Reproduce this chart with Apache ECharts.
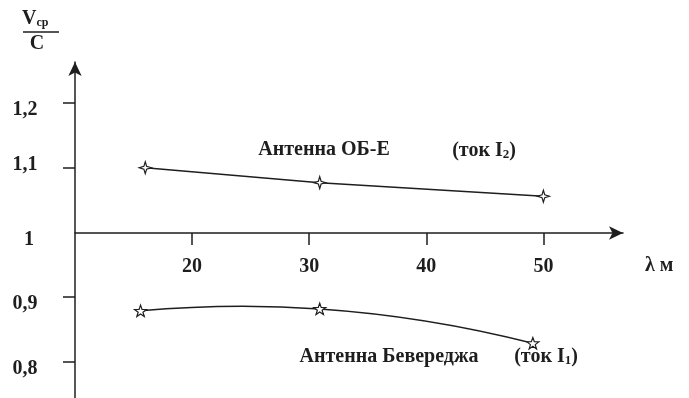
<!DOCTYPE html>
<html>
<head>
<meta charset="utf-8">
<script src="https://cdn.jsdelivr.net/npm/echarts@6/dist/echarts.min.js"></script>
<style>
  html, body { margin: 0; padding: 0; background: #fff; }
  #chart { width: 689px; height: 398px; }
</style>
</head>
<body>
<div id="chart"></div>
<script>
// Wavelength (m) and phase-velocity ratio V/C for the two antennas
const wavelengthOBE = [16, 30.9, 50];
const ratioOBE = [1.1, 1.077, 1.056];
const wavelengthBev = [15.6, 30.9, 49.1];
const ratioBev = [0.879, 0.882, 0.829];

// Axis ticks and labels
const xTicks = [20, 30, 40, 50];
const yTicks = [0.8, 0.9, 1.1, 1.2];
const yLabels = [0.8, 0.9, 1, 1.1, 1.2];

const INK = '#1e1e1e';
const FONT = 'Liberation Serif';
const labelFont = { fontFamily: FONT, fontWeight: 'bold', fontSize: 20, color: INK };

// hollow four-pointed and five-pointed star markers
const star4 = 'path://M10,0L12.3,7.7L20,10L12.3,12.3L10,20L7.7,12.3L0,10L7.7,7.7Z';
const star5 = 'path://M10,0L12.35,6.76L19.51,6.91L13.8,11.24L15.88,18.09L10,14L4.12,18.09L6.2,11.24L0.49,6.91L7.65,6.76Z';

// decimal comma; each label sits a little below its tick, "1,1" slightly above
const fmtY = v => {
  const isInt = Math.abs(v - Math.round(v)) < 1e-9;
  const s = (isInt ? String(Math.round(v)) : v.toFixed(1)).replace('.', ',');
  if (isInt) return '{one|' + s + '}';
  if (Math.abs(v - 1.1) < 1e-9) return '{hi|' + s + '}';
  return '{lo|' + s + '}';
};

// Smooth curve through three measured points: a parabola in screen space,
// drawn as two quadratic Bezier pieces.
function renderBeverageCurve(params, api) {
  const p = wavelengthBev.map((x, i) => api.coord([x, ratioBev[i]]));
  const [x1, y1] = p[0], [x2, y2] = p[1], [x3, y3] = p[2];
  const s12 = (y2 - y1) / (x2 - x1);
  const s23 = (y3 - y2) / (x3 - x2);
  const a = (s23 - s12) / (x3 - x1);
  const slope = x => s12 + a * (2 * x - x1 - x2);
  const style = { stroke: INK, lineWidth: 1.5, fill: null };
  return {
    type: 'group',
    children: [
      { type: 'bezierCurve', shape: { x1, y1, x2, y2, cpx1: (x1 + x2) / 2, cpy1: y1 + slope(x1) * (x2 - x1) / 2 }, style },
      { type: 'bezierCurve', shape: { x1: x2, y1: y2, x2: x3, y2: y3, cpx1: (x2 + x3) / 2, cpy1: y2 + slope(x2) * (x3 - x2) / 2 }, style }
    ]
  };
}

const chart = echarts.init(document.getElementById('chart'), null, { renderer: 'canvas' });

chart.setOption({
  animation: false,
  backgroundColor: '#fff',
  grid: { left: 75, right: 66, top: 62, bottom: 0, outerBoundsMode: 'none', containLabel: false },
  xAxis: {
    type: 'value',
    min: 10,
    max: 56.8,
    position: 'bottom',
    offset: -165,
    axisLine: {
      show: true,
      lineStyle: { color: INK, width: 1.5 },
      symbol: ['none', 'arrow'],
      symbolSize: [10, 14]
    },
    axisTick: { show: true, length: 12, customValues: xTicks, lineStyle: { color: INK, width: 1.5 } },
    axisLabel: Object.assign({ customValues: xTicks, margin: 24 }, labelFont),
    splitLine: { show: false }
  },
  yAxis: {
    type: 'value',
    min: 0.7444,
    max: 1.2633,
    axisLine: {
      show: true,
      lineStyle: { color: INK, width: 1.5 },
      symbol: ['none', 'arrow'],
      symbolSize: [10, 14]
    },
    axisTick: { show: true, length: 12, customValues: yTicks, lineStyle: { color: INK, width: 1.5 } },
    axisLabel: Object.assign({
      customValues: yLabels,
      formatter: fmtY,
      align: 'center',
      margin: 50,
      rich: {
        lo: Object.assign({ padding: [14, 0, 0, 0] }, labelFont),
        hi: Object.assign({ padding: [0, 0, 6, 0] }, labelFont),
        one: Object.assign({ padding: [14, 0, 0, 8] }, labelFont)
      }
    }, labelFont),
    splitLine: { show: false }
  },
  series: [
    {
      name: 'Антенна ОБ-Е',
      type: 'line',
      data: wavelengthOBE.map((x, i) => [x, ratioOBE[i]]),
      symbol: star4,
      symbolSize: 12,
      symbolKeepAspect: true,
      lineStyle: { color: INK, width: 1.5 },
      itemStyle: { color: '#fff', borderColor: INK, borderWidth: 1.2 },
      z: 3
    },
    {
      name: 'Антенна Бевереджа (кривая)',
      type: 'custom',
      coordinateSystem: 'cartesian2d',
      data: [[wavelengthBev[0], ratioBev[0]]],
      renderItem: renderBeverageCurve,
      silent: true,
      z: 2
    },
    {
      name: 'Антенна Бевереджа',
      type: 'line',
      data: wavelengthBev.map((x, i) => [x, ratioBev[i]]),
      symbol: star5,
      symbolSize: 12,
      symbolKeepAspect: true,
      lineStyle: { opacity: 0 },
      itemStyle: { color: '#fff', borderColor: INK, borderWidth: 1.2 },
      z: 3
    }
  ],
  graphic: [
    // x-axis quantity
    {
      type: 'text', x: 645, y: 266,
      style: { text: 'λ м', fontFamily: FONT, fontWeight: 'bold', fontSize: 20, fill: INK, align: 'left', verticalAlign: 'middle' }
    },
    // y-axis quantity: V_ср over C
    {
      type: 'text', left: 22, top: 9,
      style: {
        text: '{v|V}{s|ср}',
        rich: {
          v: { fontFamily: FONT, fontWeight: 'bold', fontSize: 20, fill: INK },
          s: { fontFamily: FONT, fontWeight: 'bold', fontSize: 12, fill: INK, padding: [8, 0, 0, 0] }
        }
      }
    },
    { type: 'line', shape: { x1: 23, y1: 32, x2: 59, y2: 32 }, style: { stroke: INK, lineWidth: 1.5 } },
    {
      type: 'text', x: 37, y: 44,
      style: { text: 'C', fontFamily: FONT, fontWeight: 'bold', fontSize: 20, fill: INK, align: 'center', verticalAlign: 'middle' }
    },
    // curve captions
    {
      type: 'text', x: 324, y: 150,
      style: { text: 'Антенна ОБ-Е', fontFamily: FONT, fontWeight: 'bold', fontSize: 20, fill: INK, align: 'center', verticalAlign: 'middle' }
    },
    {
      type: 'text', x: 484, y: 151,
      style: {
        text: '(ток I{s|2})', fontFamily: FONT, fontWeight: 'bold', fontSize: 20, fill: INK, align: 'center', verticalAlign: 'middle',
        rich: { s: { fontFamily: FONT, fontWeight: 'bold', fontSize: 13, fill: INK, padding: [8, 0, 0, 0] } }
      }
    },
    {
      type: 'text', x: 389, y: 357,
      style: { text: 'Антенна Бевереджа', fontFamily: FONT, fontWeight: 'bold', fontSize: 20, fill: INK, align: 'center', verticalAlign: 'middle' }
    },
    {
      type: 'text', x: 546, y: 357,
      style: {
        text: '(ток I{s|1})', fontFamily: FONT, fontWeight: 'bold', fontSize: 20, fill: INK, align: 'center', verticalAlign: 'middle',
        rich: { s: { fontFamily: FONT, fontWeight: 'bold', fontSize: 13, fill: INK, padding: [8, 0, 0, 0] } }
      }
    }
  ]
});
</script>
</body>
</html>
